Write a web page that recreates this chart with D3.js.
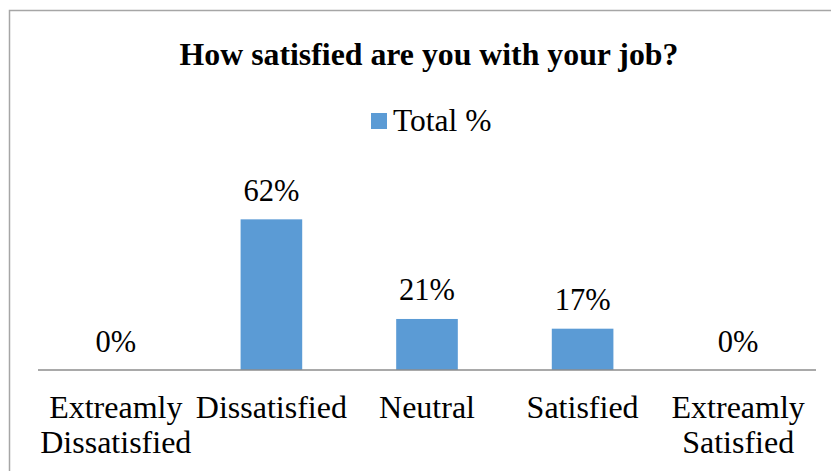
<!DOCTYPE html>
<html>
<head>
<meta charset="utf-8">
<script src="https://cdn.jsdelivr.net/npm/d3@7/dist/d3.min.js"></script>
<style>
  html, body { margin: 0; padding: 0; background: #fff; }
  svg { display: block; }
  text { font-family: "Liberation Serif", "Times New Roman", serif; fill: #000; }
</style>
</head>
<body>
<svg id="chart" width="831" height="471"></svg>
<script>
// Survey responses
const categories = ["Extreamly Dissatisfied", "Dissatisfied", "Neutral", "Satisfied", "Extreamly Satisfied"];
const totalPct = [0, 0.62, 0.21, 0.17, 0];
const seriesName = "Total %";
const chartTitle = "How satisfied are you with your job?";

const svg = d3.select("#chart");

// Chart frame
svg.append("rect")
  .attr("x", 9.5).attr("y", 10.5)
  .attr("width", 830).attr("height", 470)
  .attr("fill", "none")
  .attr("stroke", "#a6a6a6")
  .attr("stroke-width", 1.5);

const plot = { left: 38, right: 816, baseline: 370 };

const x = d3.scaleBand()
  .domain(categories)
  .range([plot.left, plot.right])
  .paddingInner(0.604)
  .paddingOuter(0.302);

const y = d3.scaleLinear()
  .domain([0, 0.7])
  .range([plot.baseline, plot.baseline - 170.1]);

const fmt = d3.format(".0%");

// Title
svg.append("text")
  .attr("x", 429).attr("y", 65)
  .attr("text-anchor", "middle")
  .style("font-size", "31.8px")
  .style("font-weight", "bold")
  .text(chartTitle);

// Legend
const legend = svg.append("g").attr("transform", "translate(371,0)");
legend.append("rect")
  .attr("x", 0).attr("y", 113)
  .attr("width", 16).attr("height", 16)
  .attr("fill", "#5b9bd5");
legend.append("text")
  .attr("x", 22).attr("y", 131)
  .style("font-size", "31.5px")
  .text(seriesName);

// Bars
const data = categories.map((c, i) => ({ c, v: totalPct[i] }));
svg.append("g").selectAll("rect")
  .data(data)
  .join("rect")
  .attr("x", d => x(d.c))
  .attr("y", d => y(d.v))
  .attr("width", x.bandwidth())
  .attr("height", d => y(0) - y(d.v))
  .attr("fill", "#5b9bd5");

// Value labels
svg.append("g").selectAll("text")
  .data(data)
  .join("text")
  .attr("x", d => x(d.c) + x.bandwidth() / 2)
  .attr("y", d => y(d.v) - 18.5)
  .attr("text-anchor", "middle")
  .style("font-size", "30.5px")
  .text(d => fmt(d.v));

// Category axis
const xAxis = svg.append("g")
  .attr("transform", `translate(0,${plot.baseline})`)
  .call(d3.axisBottom(x).tickSize(0).tickPadding(0));
xAxis.select(".domain")
  .attr("stroke", "#8c8c8c")
  .attr("stroke-width", 1.5)
  .attr("d", `M${plot.left},0H${plot.right}`);

// Wrap tick labels to the category width
xAxis.selectAll(".tick text")
  .attr("fill", "#000")
  .style("font-family", "\"Liberation Serif\", \"Times New Roman\", serif")
  .style("font-size", "32px")
  .attr("y", 0).attr("dy", null)
  .each(function (d) {
    const t = d3.select(this);
    const words = d.split(" ");
    const maxW = x.step();
    t.text(null);
    const lines = [];
    let line = [];
    const probe = t.append("tspan");
    for (const w of words) {
      probe.text(line.concat(w).join(" "));
      if (probe.node().getComputedTextLength() > maxW && line.length) {
        lines.push(line.join(" "));
        line = [w];
      } else {
        line.push(w);
      }
    }
    lines.push(line.join(" "));
    probe.remove();
    lines.forEach((l, i) => {
      t.append("tspan")
        .attr("x", 0)
        .attr("y", 48 + i * 35)
        .text(l);
    });
  });
</script>
</body>
</html>
